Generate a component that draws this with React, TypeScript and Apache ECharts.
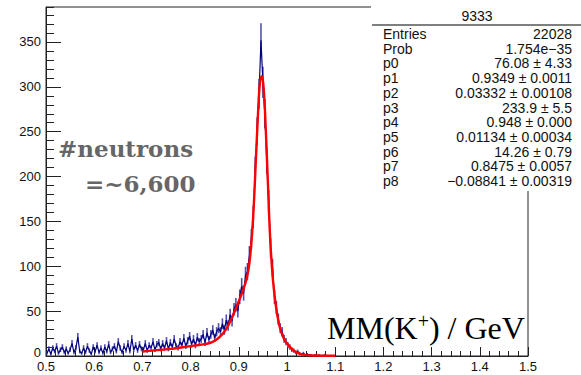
import React, { useEffect, useRef } from "react";
import * as echarts from "echarts";

// Histogram: bin lower edge start and bin width (GeV)
const binStart = 0.5;
const binWidth = 0.004;
// Counts per bin (0.500 ... 1.100)
const counts = [
  3, 8, 2, 9, 5, 11, 3, 7, 10, 4,
  8, 3, 7, 14, 4, 9, 21, 5, 3, 9,
  4, 11, 6, 2, 10, 5, 12, 4, 9, 3,
  10, 5, 13, 4, 8, 11, 5, 16, 9, 4,
  11, 6, 14, 5, 19, 7, 12, 6, 13, 8,
  7, 14, 6, 12, 9, 16, 7, 13, 15, 8,
  14, 9, 17, 8, 15, 10, 19, 11, 9, 16,
  12, 20, 11, 17, 22, 13, 19, 12, 21, 16,
  19, 24, 15, 26, 18, 24, 29, 20, 27, 31,
  27, 36, 29, 40, 34, 46, 39, 52, 57, 50,
  66, 78, 70, 90, 94, 112, 130, 155, 208, 250,
  292, 352, 305, 270, 218, 172, 120, 98, 66, 54,
  41, 31, 27, 19, 16, 12, 10, 7, 6, 4,
  5, 3, 2, 3, 1, 2, 1, 1, 0, 1,
  0, 1, 0, 0, 1, 0, 0, 0, 0, 0,
];

// Fit curve
const fitX = [
  0.7, 0.72, 0.74, 0.76, 0.78, 0.8, 0.82, 0.84, 0.85, 0.86, 0.87, 0.88, 0.89,
  0.9, 0.91, 0.915, 0.92, 0.925, 0.93, 0.935, 0.94, 0.944, 0.948, 0.952, 0.956,
  0.96, 0.965, 0.97, 0.975, 0.98, 0.985, 0.99, 0.995, 1.0, 1.01, 1.02, 1.03,
  1.04, 1.06, 1.08, 1.1,
];
const fitY = [
  5, 6, 7, 8, 9.5, 11, 12.5, 14.5, 17, 21, 27, 36, 48,
  61, 75, 84, 96, 119, 157, 213, 272, 305, 312, 295, 252,
  198, 132, 90, 64, 45, 32, 24, 18, 14, 8, 4, 2,
  1, 0.5, 0.3, 0.2,
];

const statTitle = "9333";
const statNames = ["Entries", "Prob", "p0", "p1", "p2", "p3", "p4", "p5", "p6", "p7", "p8"];
const statValues = [
  "22028",
  "1.754e\u221235",
  "76.08 \u00b1 4.33",
  "0.9349 \u00b1 0.0011",
  "0.03332 \u00b1 0.00108",
  "233.9 \u00b1 5.5",
  "0.948 \u00b1 0.000",
  "0.01134 \u00b1 0.00034",
  "14.26 \u00b1 0.79",
  "0.8475 \u00b1 0.0057",
  "\u22120.08841 \u00b1 0.00319",
];
const noteLines = ["#neutrons", "=~6,600"];
const axisTitleParts = ["MM(K", "+", ") / GeV"];

export default function App() {
  const ref = useRef<HTMLDivElement>(null);
  useEffect(() => {
    const chart = echarts.init(ref.current!, null, { renderer: "svg" });
    const histData = counts.map((c, i) => [binStart + (i + 0.5) * binWidth, c]);
    const fitData = fitX.map((x, i) => [x, fitY[i]]);
    const statFont = "14px 'Liberation Sans', Arial";

    const statsGraphics: any[] = [
      { type: "rect", z: 100, shape: { x: 371, y: 0, width: 210, height: 191 }, style: { fill: "#fff" } },
      { type: "line", z: 101, shape: { x1: 372, y1: 25, x2: 581, y2: 25 }, style: { stroke: "#555", lineWidth: 1.5 } },
      {
        type: "text", z: 101, x: 477, y: 16,
        style: { text: statTitle, font: statFont, fill: "#111", textAlign: "center", textVerticalAlign: "middle" },
      },
    ];
    statNames.forEach((n, i) => {
      const y = 34 + i * 14.7;
      statsGraphics.push({
        type: "text", z: 101, x: 383, y,
        style: { text: n, font: statFont, fill: "#111", textAlign: "left", textVerticalAlign: "middle" },
      });
      statsGraphics.push({
        type: "text", z: 101, x: 572, y,
        style: { text: statValues[i], font: statFont, fill: "#111", textAlign: "right", textVerticalAlign: "middle" },
      });
    });

    const option: any = {
      animation: false,
      backgroundColor: "#fff",
      grid: { left: 46, top: 7, width: 482, height: 349, show: true, borderColor: "#222", borderWidth: 1, backgroundColor: "transparent" },
      xAxis: [
        {
          type: "value", min: 0.5, max: 1.5, interval: 0.1, position: "bottom",
          axisLine: { show: true, lineStyle: { color: "#222", width: 1 } },
          axisTick: { show: true, inside: true, length: 9, lineStyle: { color: "#222" } },
          axisLabel: { color: "#111", fontSize: 13, fontFamily: "Liberation Sans, Arial", margin: 4 },
          splitLine: { show: false },
        },
        {
          type: "value", min: 0.5, max: 1.5, interval: 0.02, position: "bottom", offset: 0,
          axisLine: { show: false },
          axisTick: { show: true, inside: true, length: 5, lineStyle: { color: "#222" } },
          axisLabel: { show: false },
          splitLine: { show: false },
        },
      ],
      yAxis: [
        {
          type: "value", min: 0, max: 389, interval: 50, position: "left",
          axisLine: { show: true, lineStyle: { color: "#222", width: 1 } },
          axisTick: { show: true, inside: true, length: 15, lineStyle: { color: "#222" } },
          axisLabel: {
            color: "#111", fontSize: 13, fontFamily: "Liberation Sans, Arial", margin: 5, showMaxLabel: false,
            formatter: (v: number) => (v === 0 ? "{z|0}" : String(v)),
            rich: { z: { fontSize: 13, fontFamily: "Liberation Sans, Arial", color: "#111", padding: [0, 0, 8, 0] } },
          },
          splitLine: { show: false },
        },
        {
          type: "value", min: 0, max: 389, interval: 10, position: "left", offset: 0,
          axisLine: { show: false },
          axisTick: { show: true, inside: true, length: 8, lineStyle: { color: "#222" } },
          axisLabel: { show: false },
          splitLine: { show: false },
        },
      ],
      series: [
        {
          type: "custom",
          xAxisIndex: 0, yAxisIndex: 0,
          data: histData,
          z: 2,
          renderItem: (params: any, api: any) => {
            const x = api.value(0);
            const y = api.value(1);
            if (y <= 0) return null;
            const e = Math.sqrt(y);
            const p1 = api.coord([x, y - e]);
            const p2 = api.coord([x, y + e]);
            return {
              type: "line",
              shape: { x1: p1[0], y1: p1[1], x2: p2[0], y2: p2[1] },
              style: { stroke: "#33339f", lineWidth: 1.6, opacity: 0.85 },
            };
          },
        },
        {
          type: "line",
          xAxisIndex: 0, yAxisIndex: 0,
          data: histData,
          symbol: "none",
          z: 3,
          lineStyle: { color: "#000080", width: 1.2 },
        },
        {
          type: "line",
          xAxisIndex: 0, yAxisIndex: 0,
          data: fitData,
          symbol: "none",
          smooth: 0.4,
          z: 4,
          lineStyle: { color: "#f00", width: 2.4 },
        },
      ],
      graphic: [
        ...statsGraphics,
        {
          type: "text", z: 90, x: 58, y: 148,
          style: { text: noteLines[0], font: "bold 23px 'DejaVu Serif'", fill: "#666", textAlign: "left", textVerticalAlign: "middle" },
        },
        {
          type: "text", z: 90, x: 85, y: 183,
          style: { text: noteLines[1], font: "bold 23px 'DejaVu Serif'", fill: "#666", textAlign: "left", textVerticalAlign: "middle" },
        },
        {
          type: "text", z: 90, x: 327, y: 328,
          style: {
            text: `{a|${axisTitleParts[0]}}{s|${axisTitleParts[1]}}{a|${axisTitleParts[2]}}`,
            textAlign: "left", textVerticalAlign: "middle",
            rich: {
              a: { fontFamily: "Liberation Serif", fontSize: 32, fill: "#000", color: "#000" },
              s: { fontFamily: "Liberation Serif", fontSize: 20, fill: "#000", color: "#000", padding: [0, 0, 14, 0] },
            },
          },
        },
      ],
    };
    chart.setOption(option);
    return () => chart.dispose();
  }, []);
  return (
    <div
      ref={ref}
      style={{ position: "fixed", left: 0, top: 0, width: 581, height: 375, background: "#fff" }}
    />
  );
}
